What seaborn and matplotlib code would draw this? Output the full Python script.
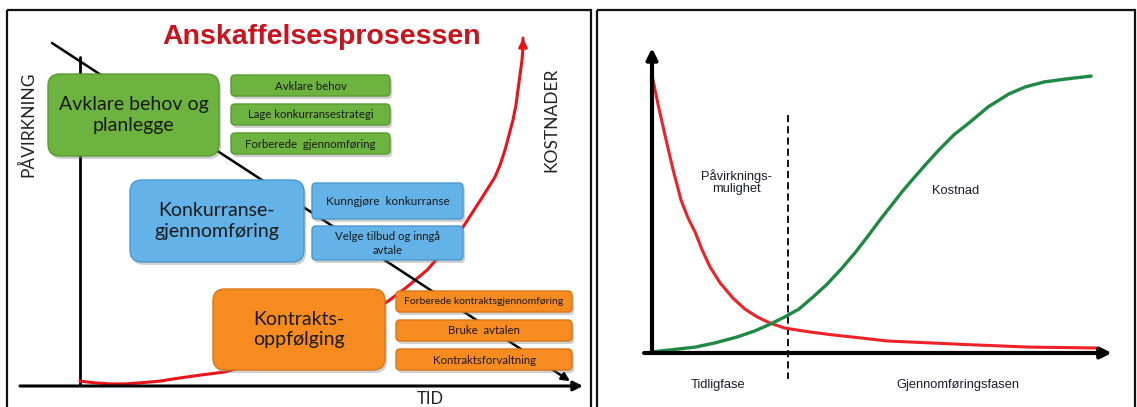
import matplotlib
matplotlib.use("Agg")
import matplotlib.pyplot as plt
from matplotlib.patches import FancyBboxPatch, Rectangle
import pandas as pd
import seaborn as sns

# ---------------- data ----------------
# Left panel: cost of the procurement over time (tid 0-100, kostnad 0-100)
anskaffelse_tid = [0, 3, 6, 9, 12, 16, 20, 24, 29, 36, 44, 54, 61.4, 65.4,
                   69.4, 73, 76.6, 80, 83, 84, 85, 85.8, 86.6, 87.2, 87.6,
                   88, 88.4, 88.6, 88.6]
anskaffelse_kostnad = [1.4, 0.9, 0.6, 0.6, 0.9, 1.4, 2.3, 3.1, 4.0, 6.9, 10.9,
                       17.4, 24.0, 28.3, 33.1, 38.9, 45.4, 52.9, 59.7, 63.1,
                       67.4, 71.7, 76.0, 80.3, 84.6, 88.9, 93.1, 96.6, 99.4]
# Influence falls steadily through the process
paavirkning_tid = [-5.6, 98]
paavirkning_niva = [98, 1.4]

# Process phases and their activities
faser = ["Avklare behov og\nplanlegge", "Konkurranse-\ngjennomføring",
         "Kontrakts-\noppfølging"]
aktiviteter = [
    ["Avklare behov", "Lage konkurransestrategi", "Forberede  gjennomføring"],
    ["Kunngjøre  konkurranse", "Velge tilbud og inngå\navtale"],
    ["Forberede kontraktsgjennomføring", "Bruke  avtalen", "Kontraktsforvaltning"],
]

# Right panel: possibility of influence vs. cost across project phases
mulighet_tid = [0, 1.4, 3.2, 4.8, 6.6, 8.2, 9.8, 11.4, 13.2, 15.5, 18.4, 21.1,
                23.9, 26.8, 30.2, 35.9, 41.4, 47.3, 53.4, 63.2, 73.2, 85.9, 100.9]
mulighet = [99.3, 88.6, 76.1, 65.4, 54.6, 48.2, 43.2, 36.8, 30.7, 25.0, 19.6,
            15.7, 12.9, 10.7, 8.9, 7.5, 6.4, 5.4, 4.3, 3.6, 2.9, 2.1, 1.8]
kostnad_tid = [0, 4.1, 9.8, 14.3, 19.3, 23.4, 27.0, 30.2, 33.4, 36.6, 39.8,
               43.0, 46.1, 49.1, 51.8, 54.5, 57.0, 59.5, 62.3, 65.2, 68.6,
               72.3, 76.4, 81.1, 84.8, 89.1, 94.3, 99.8]
kostnad = [0.4, 1.1, 2.1, 3.6, 5.7, 7.9, 10.4, 12.9, 15.7, 20.0, 24.6, 30.0,
           35.7, 41.8, 47.5, 52.9, 57.9, 62.5, 67.5, 72.5, 77.9, 82.5, 87.9,
           92.5, 95.0, 96.8, 97.9, 98.9]
fasegrense = 30.9
fasenavn = ["Tidligfase", "Gjennomføringsfasen"]

# ---------------- style ----------------
sns.set_theme(style="white")
plt.rcParams["font.family"] = ["Lato", "DejaVu Sans"]

W, H = 1137, 407
fig = plt.figure(figsize=(W / 100, H / 100), dpi=100)


def axes_px(x0, y0, x1, y1, **kw):
    return fig.add_axes([x0 / W, (H - y1) / H, (x1 - x0) / W, (y1 - y0) / H], **kw)


# curve axes for the left panel
axl = axes_px(7, 10, 592, 407)
# curve axes for the right panel
axr = axes_px(597, 10, 1137, 407)

# pixel canvas on top for frames, boxes and labels
cv = fig.add_axes([0, 0, 1, 1], zorder=5)
cv.set_xlim(0, W)
cv.set_ylim(H, 0)
cv.axis("off")
cv.patch.set_alpha(0)


def arrow(ax, x0, y0, x1, y1, color, lw, ms):
    ax.annotate("", xy=(x1, y1), xytext=(x0, y0),
                arrowprops=dict(arrowstyle="-|>", color=color, lw=lw,
                                mutation_scale=ms, shrinkA=0, shrinkB=0))


# ---------- left panel curves ----------
arrow(axl, -12, 0, 100.6, 0, "black", 2.2, 14)
axl.plot([0, 0], [0.6, 94], color="black", lw=2)
arrow(axl, paavirkning_tid[0], paavirkning_niva[0],
      paavirkning_tid[1], paavirkning_niva[1], "black", 1.8, 12)

df_l = pd.DataFrame({"tid": anskaffelse_tid, "kostnad": anskaffelse_kostnad})
sns.lineplot(data=df_l, x="tid", y="kostnad", sort=False, estimator=None,
             color="#E8141B", lw=2.2, ax=axl)
arrow(axl, anskaffelse_tid[-2], anskaffelse_kostnad[-2],
      anskaffelse_tid[-1], anskaffelse_kostnad[-1], "#E8141B", 2.2, 12)
axl.set_xlim((7 - 80) / 5, (592 - 80) / 5)
axl.set_ylim((386 - 407) / 3.5, (386 - 10) / 3.5)
axl.axis("off")

# ---------- right panel curves ----------
arrow(axr, -1.8, 0, 104.5, 0, "black", 3, 16)
arrow(axr, 0, 0, 0, 108.9, "black", 3, 16)
axr.plot([fasegrense, fasegrense], [85, -9.3], color="black", lw=1.3,
         ls=(0, (4, 2.2)))
df_m = pd.DataFrame({"tid": mulighet_tid, "verdi": mulighet})
df_k = pd.DataFrame({"tid": kostnad_tid, "verdi": kostnad})
sns.lineplot(data=df_m, x="tid", y="verdi", sort=False, estimator=None,
             color="#EE2228", lw=2.2, ax=axr)
sns.lineplot(data=df_k, x="tid", y="verdi", sort=False, estimator=None,
             color="#208845", lw=2.4, ax=axr)
axr.set_xlim((597 - 652) / 4.4, (1137 - 652) / 4.4)
axr.set_ylim((353 - 407) / 2.8, (353 - 10) / 2.8)
axr.axis("off")

# ---------- frames ----------
for x0, x1 in [(7, 591), (597, 1135)]:
    cv.add_patch(Rectangle((x0, 10), x1 - x0, 420, fill=False,
                           ec="#111111", lw=1.6))


def box(x, y, w, h, fc, ec, r):
    cv.add_patch(FancyBboxPatch((x + 2, y + 3), w, h,
                                boxstyle=f"round,pad=0,rounding_size={r}",
                                fc="#7a7a7a", ec="none", alpha=0.35))
    cv.add_patch(FancyBboxPatch((x, y), w, h,
                                boxstyle=f"round,pad=0,rounding_size={r}",
                                fc=fc, ec=ec, lw=1.0))


farger = [("#6DB33F", "#5A9A30"), ("#63B2E8", "#4E98CC"), ("#F68B1F", "#D9761A")]
store = [(48, 74, 171, 82), (130, 180, 174, 82), (213, 289, 172, 81)]
sma = [
    [(231, 75, 159, 21), (231, 104, 159, 21), (231, 133, 159, 21)],
    [(312, 183, 151, 36), (312, 226, 151, 34)],
    [(396, 291, 176, 21), (396, 320, 176, 21), (396, 349, 176, 21)],
]
sma_str = [[8.2, 8.2, 8.2], [8.4, 8.2], [7.5, 8.2, 8.2]]

for i, fase in enumerate(faser):
    fc, ec = farger[i]
    x, y, w, h = store[i]
    box(x, y, w, h, fc, ec, 12)
    cv.text(x + w / 2, y + h / 2, fase, ha="center", va="center",
            fontsize=14, color="#1a1a1a", linespacing=1.25)
    for j, akt in enumerate(aktiviteter[i]):
        sx, sy, sw, sh = sma[i][j]
        box(sx, sy, sw, sh, fc, ec, 4)
        cv.text(sx + sw / 2, sy + sh / 2 + 0.5, akt, ha="center", va="center",
                fontsize=sma_str[i][j], color="#1a1a1a", linespacing=1.3)

# ---------- left panel labels ----------
cv.text(322, 44, "Anskaffelsesprosessen", ha="center", va="baseline",
        fontsize=20.5, fontweight="bold", color="#C8141E",
        family=["Liberation Sans", "DejaVu Sans"])
cv.text(28, 124, "PÅVIRKNING", rotation=90, ha="center", va="center",
        fontsize=12.5, color="#222222")
cv.text(551, 120, "KOSTNADER", rotation=90, ha="center", va="center",
        fontsize=12.5, color="#222222")
cv.text(430, 391, "TID", ha="center", va="top", fontsize=12, color="#222222")

# ---------- right panel labels ----------
rfont = ["Liberation Sans", "DejaVu Sans"]
cv.text(736, 182, "Påvirknings-\nmulighet", ha="center", va="center",
        fontsize=9.3, color="#1c1c2c", family=rfont, linespacing=1.05)
cv.text(956, 191, "Kostnad", ha="center", va="center", fontsize=9.3,
        color="#1c1c2c", family=rfont)
cv.text(718, 385, fasenavn[0], ha="center", va="center", fontsize=9.3,
        color="#1c1c2c", family=rfont)
cv.text(958, 385, fasenavn[1], ha="center", va="center", fontsize=9.3,
        color="#1c1c2c", family=rfont)

fig.savefig("out.png", dpi=100)
